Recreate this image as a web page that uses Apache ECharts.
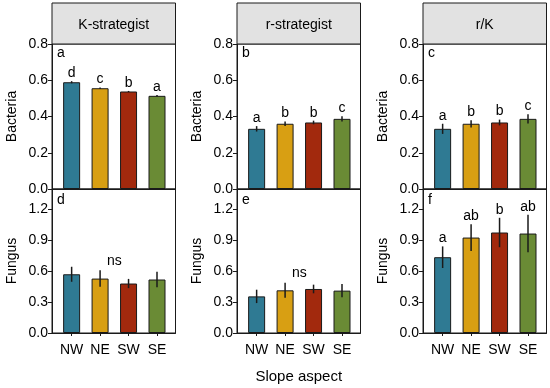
<!DOCTYPE html>
<html><head><meta charset="utf-8">
<script src="https://cdn.jsdelivr.net/npm/echarts@6/dist/echarts.min.js"></script>
<style>html,body{margin:0;padding:0;background:#fff}#c{width:550px;height:388px}</style>
</head><body><div id="c"></div>
<script>
// ---- data ----
var categories = ['NW', 'NE', 'SW', 'SE'];
var panelTitles = ['K-strategist', 'r-strategist', 'r/K'];
var panelLetters = ['a', 'b', 'c', 'd', 'e', 'f'];

var kBact = [0.589, 0.556, 0.538, 0.514];
var kBactErr = [0.006, 0.004, 0.003, 0.004];
var kBactSig = ['d', 'c', 'b', 'a'];

var rBact = [0.332, 0.360, 0.367, 0.387];
var rBactErr = [0.015, 0.012, 0.010, 0.014];
var rBactSig = ['a', 'b', 'b', 'c'];

var rkBact = [0.332, 0.360, 0.367, 0.387];
var rkBactErr = [0.028, 0.020, 0.016, 0.026];
var rkBactSig = ['a', 'b', 'b', 'c'];

var kFung = [0.571, 0.529, 0.481, 0.520];
var kFungErr = [0.073, 0.080, 0.045, 0.076];
var kFungSig = ['', '', '', ''];

var rFung = [0.356, 0.415, 0.428, 0.412];
var rFungErr = [0.065, 0.073, 0.042, 0.065];
var rFungSig = ['', '', '', ''];

var rkFung = [0.737, 0.928, 0.977, 0.967];
var rkFungErr = [0.105, 0.130, 0.143, 0.183];
var rkFungSig = ['a', 'ab', 'b', 'ab'];

var bactTicks = [0, 0.2, 0.4, 0.6, 0.8];
var fungTicks = [0, 0.3, 0.6, 0.9, 1.2];

// ---- layout / style ----
var colors = ['#2f7a93', '#d89f13', '#a2290d', '#6a8b35'];
var FONT = 'Liberation Sans, Arial, sans-serif';
var lefts = [52, 237, 423];
var W = 123.5;
var topY = 44, topH = 145, botY = 189, botH = 144;
var nsInfo = {3: 0.70, 4: 0.585};

var panels = [
  {v: kBact, e: kBactErr, s: kBactSig, row: 0, col: 0},
  {v: rBact, e: rBactErr, s: rBactSig, row: 0, col: 1},
  {v: rkBact, e: rkBactErr, s: rkBactSig, row: 0, col: 2},
  {v: kFung, e: kFungErr, s: kFungSig, row: 1, col: 0},
  {v: rFung, e: rFungErr, s: rFungSig, row: 1, col: 1},
  {v: rkFung, e: rkFungErr, s: rkFungSig, row: 1, col: 2}
];

var grids = [], xAxes = [], yAxes = [], series = [], graphics = [];
panels.forEach(function (p, i) {
  var top = p.row === 0 ? topY : botY;
  var h = p.row === 0 ? topH : botH;
  grids.push({left: lefts[p.col], top: top, width: W, height: h, show: true,
    borderColor: '#1a1a1a', borderWidth: 1, backgroundColor: 'transparent', containLabel: false});
  var isBottom = p.row === 1;
  xAxes.push({
    type: 'value', gridIndex: i, min: 0.31, max: 4.65,
    splitLine: {show: false},
    axisLine: {show: true, lineStyle: {color: '#1a1a1a', width: 1}},
    axisTick: {show: isBottom, customValues: [1, 2, 3, 4], length: 3, lineStyle: {color: '#1a1a1a'}},
    axisLabel: {show: isBottom, customValues: [1, 2, 3, 4], margin: 10,
      formatter: function (v) { return categories[Math.round(v) - 1] || ''; },
      fontSize: 14, color: '#000', fontFamily: FONT},
    name: (isBottom && p.col === 1) ? 'Slope aspect' : '',
    nameLocation: 'middle', nameGap: 36,
    nameTextStyle: {fontSize: 15, color: '#000', fontFamily: FONT}
  });
  var ticks = p.row === 0 ? bactTicks : fungTicks;
  yAxes.push({
    type: 'value', gridIndex: i, min: 0, max: p.row === 0 ? 0.8 : 1.4,
    splitLine: {show: false},
    axisLine: {show: true, lineStyle: {color: '#1a1a1a', width: 1}},
    axisTick: {show: true, customValues: ticks, length: 4, lineStyle: {color: '#1a1a1a'}},
    axisLabel: {customValues: ticks, margin: 4, fontSize: 14, color: '#000', fontFamily: FONT,
      formatter: function (v) { return Number(v).toFixed(1); }},
    name: p.row === 0 ? 'Bacteria' : 'Fungus',
    nameLocation: 'middle', nameGap: 33,
    nameTextStyle: {fontSize: 14, color: '#000', fontFamily: FONT}
  });
  series.push({
    type: 'bar', xAxisIndex: i, yAxisIndex: i, barWidth: 17, silent: true,
    itemStyle: {borderColor: '#1a1a1a', borderWidth: 1},
    data: p.v.map(function (v, k) { return {value: [k + 1, v], itemStyle: {color: colors[k]}}; }),
    z: 2
  });
  var errData = p.v.map(function (v, k) { return [k + 1, v, p.e[k]]; });
  series.push({
    type: 'custom', xAxisIndex: i, yAxisIndex: i, silent: true, z: 5,
    data: errData,
    renderItem: function (params, api) {
      var x = api.value(0), v = api.value(1), e = api.value(2);
      var sig = p.s[params.dataIndex];
      var lo = api.coord([x, v - e]), hi = api.coord([x, v + e]);
      var children = [{
        type: 'line', shape: {x1: lo[0], y1: lo[1], x2: hi[0], y2: hi[1]},
        style: {stroke: '#1a1a1a', lineWidth: 1.5}
      }];
      if (sig) {
        children.push({type: 'text', x: hi[0], y: hi[1] - 1,
          style: {text: sig, fill: '#000', fontSize: 14, fontFamily: FONT, align: 'center', verticalAlign: 'bottom'}});
      }
      if (params.dataIndex === 0 && nsInfo[i] !== undefined) {
        var c = api.coord([2.5, nsInfo[i]]);
        children.push({type: 'text', x: c[0], y: c[1],
          style: {text: 'ns', fill: '#000', fontSize: 14, fontFamily: FONT, align: 'center', verticalAlign: 'middle'}});
      }
      return {type: 'group', children: children};
    }
  });
  graphics.push({type: 'text', left: lefts[p.col] + 5, top: top + (p.row === 0 ? 2 : 4), z: 10,
    style: {text: panelLetters[i], fill: '#000', fontSize: 14, fontFamily: FONT}});
});
panelTitles.forEach(function (t, c) {
  graphics.push({type: 'rect', shape: {x: lefts[c], y: 3, width: W, height: topY - 3},
    style: {fill: '#e2e2e2', stroke: '#1a1a1a', lineWidth: 1}, z: 1});
  graphics.push({type: 'text', x: lefts[c] + W / 2, y: 25, z: 2,
    style: {text: t, fill: '#000', fontSize: 14, fontFamily: FONT, align: 'center', verticalAlign: 'middle'}});
});

var chart = echarts.init(document.getElementById('c'), null, {renderer: 'canvas'});
chart.setOption({
  animation: false,
  backgroundColor: '#fff',
  grid: grids, xAxis: xAxes, yAxis: yAxes, series: series, graphic: graphics
});
</script></body></html>
